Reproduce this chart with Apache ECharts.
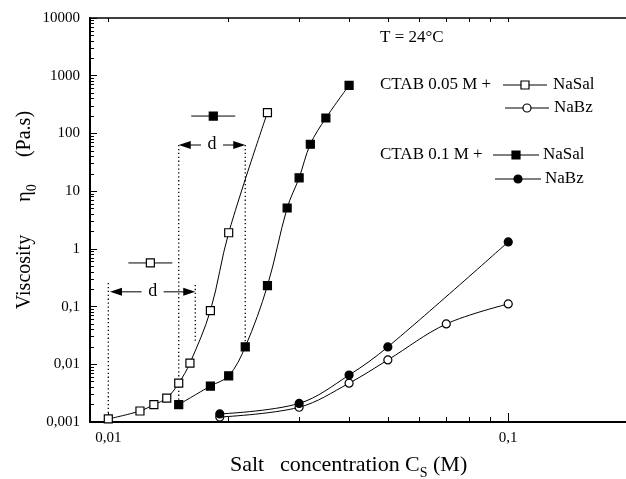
<!DOCTYPE html>
<html lang="en">
<head>
<meta charset="UTF-8">
<title>Viscosity vs salt concentration</title>
<style>
    *{ margin: 0; padding: 0; }
    #main{ width: 626px; height: 479px; }
</style>
</head>
<body>
<div id="main"></div>
<script src="https://cdn.jsdelivr.net/npm/echarts@6.0.0/dist/echarts.min.js"></script>
<script>
// CTAB 0.05 M + NaSal (open squares)
var sal05C = [0.01, 0.012, 0.013, 0.014, 0.015, 0.016, 0.018, 0.02, 0.025];
var sal05V = [0.00113, 0.00155, 0.002, 0.0026, 0.0047, 0.0105, 0.085, 1.9, 230];
// CTAB 0.1 M + NaSal (filled squares)
var sal1C = [0.015, 0.018, 0.02, 0.022, 0.025, 0.028, 0.03, 0.032, 0.035, 0.04];
var sal1V = [0.002, 0.0042, 0.0063, 0.02, 0.23, 5.1, 17, 65, 185, 680];
// CTAB 0.05 M + NaBz (open circles)
var bz05C = [0.019, 0.03, 0.04, 0.05, 0.07, 0.1];
var bz05V = [0.00122, 0.0018, 0.0047, 0.0119, 0.05, 0.111];
// CTAB 0.1 M + NaBz (filled circles)
var bz1C = [0.019, 0.03, 0.04, 0.05, 0.1];
var bz1V = [0.00138, 0.0021, 0.0065, 0.02, 1.32];

// dotted guide lines for the "d" shifts
var guideX = [0.01, 0.0165, 0.015, 0.022];
var guideTop = [0.256, 0.237, 63, 63];
var guideBottom = [0.00113, 0.025, 0.002, 0.02];

// axis ticks
var xLabelTicks = [0.01, 0.1];
var xMinorTicks = [0.02, 0.03, 0.04, 0.05, 0.06, 0.07, 0.08, 0.09, 0.2];
var yLabelTicks = [0.001, 0.01, 0.1, 1, 10, 100, 1000, 10000];
var yMinorTicks = [];
for (var d = 0; d < 7; d++) {
    for (var k = 2; k <= 9; k++) {
        yMinorTicks.push(k * yLabelTicks[d]);
    }
}

var FONT = 'Liberation Serif';

function pairs(xs, ys) {
    var out = [];
    for (var i = 0; i < xs.length; i++) out.push([xs[i], ys[i]]);
    return out;
}
function commaLabel(v) {
    return String(+(+v).toPrecision(4)).replace('.', ',');
}

function curve(name, xs, ys, symbol, filled) {
    return {
        name: name,
        type: 'line',
        smooth: 0.35,
        data: pairs(xs, ys),
        symbol: symbol,
        symbolSize: 8,
        showAllSymbol: true,
        lineStyle: { color: '#000', width: 1 },
        itemStyle: { color: filled ? '#000' : '#fff', borderColor: '#000', borderWidth: 1.2 },
        z: 3
    };
}

var series = [
    curve('CTAB 0.05 M + NaSal', sal05C, sal05V, 'rect', false),
    curve('CTAB 0.1 M + NaSal', sal1C, sal1V, 'rect', true),
    curve('CTAB 0.05 M + NaBz', bz05C, bz05V, 'circle', false),
    curve('CTAB 0.1 M + NaBz', bz1C, bz1V, 'circle', true)
];
for (var i = 0; i < guideX.length; i++) {
    series.push({
        type: 'line',
        data: [[guideX[i], guideTop[i]], [guideX[i], guideBottom[i]]],
        symbol: 'none',
        lineStyle: { color: '#000', width: 1.3, type: [1.3, 2.6] },
        z: 1
    });
}

var xMin = 0.009, xMax = 0.197;
var yMin = 0.001, yMax = 10000;

var chart = echarts.init(document.getElementById('main'));
var option = {
    animation: false,
    backgroundColor: '#fff',
    grid: { left: 90, top: 18, right: 0, bottom: 57 },
    xAxis: [
        {
            type: 'log', position: 'bottom', min: xMin, max: xMax,
            axisLine: { onZero: false, lineStyle: { color: '#000', width: 2 } },
            axisTick: { inside: true, length: 9, customValues: xLabelTicks, lineStyle: { color: '#000', width: 1 } },
            axisLabel: { customValues: xLabelTicks, formatter: commaLabel, margin: 9,
                color: '#000', fontFamily: FONT, fontSize: 15 },
            splitLine: { show: false }
        },
        {
            type: 'log', position: 'bottom', min: xMin, max: xMax,
            axisLine: { show: false, onZero: false },
            axisTick: { inside: true, length: 5, customValues: xMinorTicks, lineStyle: { color: '#000', width: 1 } },
            axisLabel: { show: false },
            splitLine: { show: false }
        },
        {
            type: 'log', position: 'top', min: xMin, max: xMax,
            axisLine: { onZero: false, lineStyle: { color: '#000', width: 1.5 } },
            axisTick: { inside: true, length: 4, customValues: xLabelTicks.concat(xMinorTicks), lineStyle: { color: '#000', width: 1 } },
            axisLabel: { show: false },
            splitLine: { show: false }
        }
    ],
    yAxis: [
        {
            type: 'log', position: 'left', min: yMin, max: yMax,
            axisLine: { onZero: false, lineStyle: { color: '#000', width: 2 } },
            axisTick: { inside: true, length: 7, customValues: yLabelTicks, lineStyle: { color: '#000', width: 1 } },
            axisLabel: { customValues: yLabelTicks, formatter: commaLabel, margin: 10,
                color: '#000', fontFamily: FONT, fontSize: 15 },
            splitLine: { show: false }
        },
        {
            type: 'log', position: 'left', min: yMin, max: yMax,
            axisLine: { show: false, onZero: false },
            axisTick: { inside: true, length: 4, customValues: yMinorTicks, lineStyle: { color: '#000', width: 1 } },
            axisLabel: { show: false },
            splitLine: { show: false }
        }
    ],
    series: series
};
chart.setOption(option);

// annotations: texts, keys and arrows
var g = [];
function px(x, y) { return chart.convertToPixel({ seriesIndex: 0 }, [x, y]); }
function seg(x1, y1, x2, y2) {
    g.push({ type: 'line', z: 100, shape: { x1: x1, y1: y1, x2: x2, y2: y2 }, style: { stroke: '#000', lineWidth: 1 } });
}
function arrowHead(x, y, dir) {
    g.push({ type: 'polygon', z: 100, shape: { points: [[x, y], [x - dir * 12, y - 4], [x - dir * 12, y + 4]] }, style: { fill: '#000' } });
}
function txt(str, x, y, size, align, rich, rotation) {
    g.push({
        type: 'text', z: 100, x: x, y: y, rotation: rotation || 0,
        style: { text: str, fill: '#000', font: size + 'px "' + FONT + '"', align: align || 'left', verticalAlign: 'middle', rich: rich }
    });
}
function keyMark(cx, cy, half, kind, filled) {
    seg(cx - half, cy, cx + half, cy);
    var st = { fill: filled ? '#000' : '#fff', stroke: '#000', lineWidth: 1.2 };
    if (kind === 'rect') {
        g.push({ type: 'rect', z: 101, shape: { x: cx - 4, y: cy - 4, width: 8, height: 8 }, style: st });
    } else {
        g.push({ type: 'circle', z: 101, shape: { cx: cx, cy: cy, r: 4 }, style: st });
    }
}
function dArrow(xl, xr, y) {
    var a = px(xl, y), b = px(xr, y);
    var mid = (a[0] + b[0]) / 2;
    seg(a[0] + 4, a[1], mid - 11, a[1]);
    seg(mid + 11, a[1], b[0] - 4, a[1]);
    arrowHead(a[0], a[1], -1);
    arrowHead(b[0], b[1], 1);
    txt('d', mid, a[1] - 1, 18, 'center');
}

dArrow(0.015, 0.022, 63);
dArrow(0.0101, 0.0165, 0.18);
var k1 = px(0.0183, 200);
keyMark(k1[0], k1[1], 22, 'rect', true);
var k2 = px(0.01274, 0.57);
keyMark(k2[0], k2[1], 22, 'rect', false);

// legend block
txt('T = 24°C', 380, 38, 17);
txt('CTAB 0.05 M +', 380, 85, 17);
keyMark(525, 85, 22, 'rect', false);
txt('NaSal', 553, 85, 17);
keyMark(527, 108, 22, 'circle', false);
txt('NaBz', 554, 108, 17);
txt('CTAB 0.1 M +', 380, 155, 17);
keyMark(516, 155, 23, 'rect', true);
txt('NaSal', 543, 155, 17);
keyMark(518, 179, 23, 'circle', true);
txt('NaBz', 545, 179, 17);

// axis titles
txt('Salt', 230, 465, 22);
txt('concentration', 280, 465, 22);
txt('C{sub|S}', 405, 465, 22, 'left', { sub: { fontSize: 14, fontFamily: FONT, verticalAlign: 'bottom', padding: [0, 0, -4, 0] } });
txt('(M)', 433, 465, 22);
txt('Viscosity', 25, 272, 20, 'center', null, Math.PI / 2);
txt('η{sub|0}', 25, 193, 20, 'center', { sub: { fontSize: 14, fontFamily: FONT, verticalAlign: 'bottom', padding: [0, 0, -4, 0] } }, Math.PI / 2);
txt('(Pa.s)', 25, 134, 20, 'center', null, Math.PI / 2);

chart.setOption({ graphic: g });
</script>
</body>
</html>
